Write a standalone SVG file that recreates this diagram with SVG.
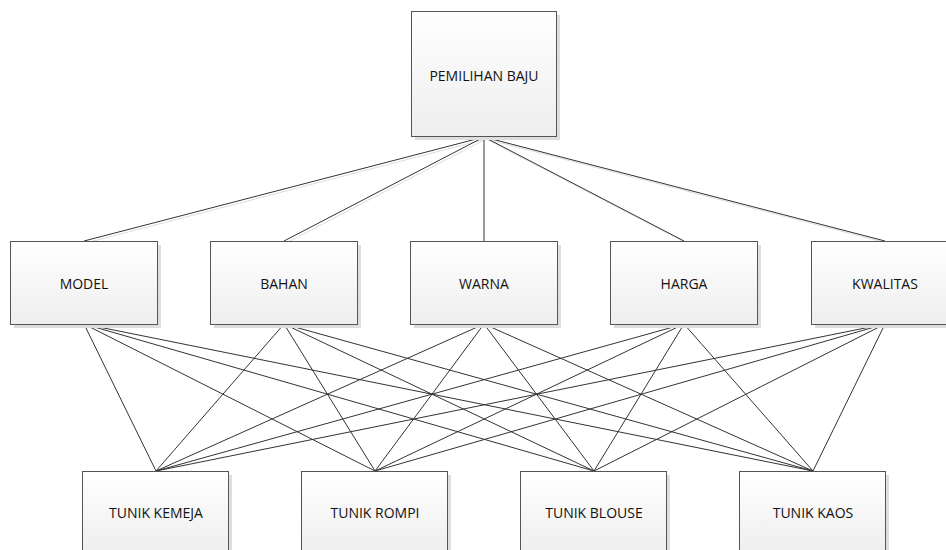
<svg xmlns="http://www.w3.org/2000/svg" width="946" height="550" viewBox="0 0 946 550">
<defs>
<linearGradient id="g" x1="0" y1="0" x2="0" y2="1">
<stop offset="0" stop-color="#ffffff"/>
<stop offset="1" stop-color="#eeeeee"/>
</linearGradient>
</defs>
<style>
.box{fill:url(#g);stroke:#555;stroke-width:1}
.sh{fill:#dedede}
.t{font-family:"Open Sans","Liberation Sans",sans-serif;font-size:14px;fill:#111;text-anchor:middle;dominant-baseline:central}
.c line{stroke:#333;stroke-width:1}
.cs line{stroke:#ddd;stroke-width:1}
</style>
<rect width="946" height="550" fill="#fff"/>
<g class="cs" transform="translate(2,2)">
<line x1="484" y1="137" x2="84" y2="241"/><line x1="484" y1="137" x2="284" y2="241"/><line x1="484" y1="137" x2="684" y2="241"/><line x1="484" y1="137" x2="885" y2="241"/>
</g>
<g id="connectors" class="c">
<line x1="484" y1="137" x2="84" y2="241"/>
<line x1="484" y1="137" x2="284" y2="241"/>
<line x1="484" y1="137" x2="484" y2="241"/>
<line x1="484" y1="137" x2="684" y2="241"/>
<line x1="484" y1="137" x2="885" y2="241"/>
<line x1="84" y1="324" x2="156" y2="471"/><line x1="84" y1="324" x2="375" y2="471"/><line x1="84" y1="324" x2="594" y2="471"/><line x1="84" y1="324" x2="813" y2="471"/>
<line x1="284" y1="324" x2="156" y2="471"/><line x1="284" y1="324" x2="375" y2="471"/><line x1="284" y1="324" x2="594" y2="471"/><line x1="284" y1="324" x2="813" y2="471"/>
<line x1="484" y1="324" x2="156" y2="471"/><line x1="484" y1="324" x2="375" y2="471"/><line x1="484" y1="324" x2="594" y2="471"/><line x1="484" y1="324" x2="813" y2="471"/>
<line x1="684" y1="324" x2="156" y2="471"/><line x1="684" y1="324" x2="375" y2="471"/><line x1="684" y1="324" x2="594" y2="471"/><line x1="684" y1="324" x2="813" y2="471"/>
<line x1="885" y1="324" x2="156" y2="471"/><line x1="885" y1="324" x2="375" y2="471"/><line x1="885" y1="324" x2="594" y2="471"/><line x1="885" y1="324" x2="813" y2="471"/>
</g>
<g id="pemilihan-baju"><rect class="sh" x="415" y="15" width="145" height="125"/><rect class="box" x="411.5" y="11.5" width="145" height="125"/><text class="t" x="484" y="75">PEMILIHAN BAJU</text></g>
<g id="model"><rect class="sh" x="14" y="245" width="147" height="83"/><rect class="box" x="10.5" y="241.5" width="147" height="83"/><text class="t" x="84" y="283">MODEL</text></g>
<g id="bahan"><rect class="sh" x="214" y="245" width="147" height="83"/><rect class="box" x="210.5" y="241.5" width="147" height="83"/><text class="t" x="284" y="283">BAHAN</text></g>
<g id="warna"><rect class="sh" x="414" y="245" width="147" height="83"/><rect class="box" x="410.5" y="241.5" width="147" height="83"/><text class="t" x="484" y="283">WARNA</text></g>
<g id="harga"><rect class="sh" x="614" y="245" width="147" height="83"/><rect class="box" x="610.5" y="241.5" width="147" height="83"/><text class="t" x="684" y="283">HARGA</text></g>
<g id="kwalitas"><rect class="sh" x="815" y="245" width="147" height="83"/><rect class="box" x="811.5" y="241.5" width="147" height="83"/><text class="t" x="885" y="283">KWALITAS</text></g>
<g id="tunik-kemeja"><rect class="sh" x="86" y="475" width="146" height="83"/><rect class="box" x="82.5" y="471.5" width="146" height="83"/><text class="t" x="156" y="512">TUNIK KEMEJA</text></g>
<g id="tunik-rompi"><rect class="sh" x="305" y="475" width="146" height="83"/><rect class="box" x="301.5" y="471.5" width="146" height="83"/><text class="t" x="375" y="512">TUNIK ROMPI</text></g>
<g id="tunik-blouse"><rect class="sh" x="524" y="475" width="146" height="83"/><rect class="box" x="520.5" y="471.5" width="146" height="83"/><text class="t" x="594" y="512">TUNIK BLOUSE</text></g>
<g id="tunik-kaos"><rect class="sh" x="743" y="475" width="146" height="83"/><rect class="box" x="739.5" y="471.5" width="146" height="83"/><text class="t" x="813" y="512">TUNIK KAOS</text></g>
</svg>
